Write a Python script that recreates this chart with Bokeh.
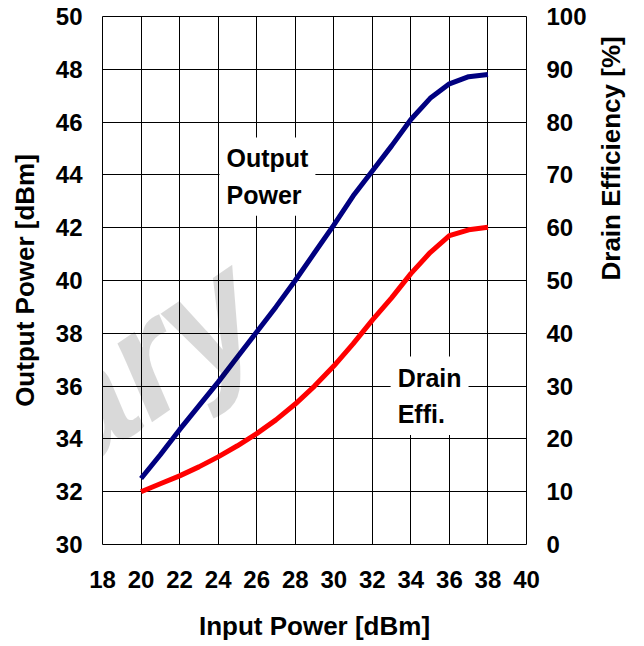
import math
from bokeh.plotting import figure
from bokeh.models import LinearAxis, Range1d, FixedTicker, Label
from bokeh.embed import file_html
from bokeh.resources import INLINE

# ---- data ----
input_power = [20, 21, 22, 23, 24, 25, 26, 27, 28, 29, 30, 31, 32, 33, 34, 35, 36, 37, 38]
output_power = [32.5, 33.4, 34.35, 35.25, 36.15, 37.1, 38.05, 39.0, 40.0, 41.05, 42.1, 43.2,
                44.15, 45.1, 46.1, 46.9, 47.45, 47.72, 47.8]
drain_eff = [10.0, 11.5, 13.0, 14.7, 16.6, 18.7, 21.0, 23.6, 26.6, 30.0, 33.8, 38.0,
             42.5, 46.7, 51.3, 55.3, 58.5, 59.6, 60.1]

x_ticks = list(range(18, 41, 2))
left_ticks = list(range(30, 51, 2))
right_ticks = list(range(0, 101, 10))

FONT = "Liberation Sans"

p = figure(width=644, height=646, x_range=Range1d(18, 40), y_range=Range1d(30, 50),
           output_backend="svg", toolbar_location=None,
           min_border_left=102, min_border_right=118, min_border_top=16, min_border_bottom=102)
p.extra_y_ranges = {"eff": Range1d(0, 100)}
p.background_fill_color = "white"
p.border_fill_color = "white"
p.outline_line_color = "black"
p.outline_line_width = 1
p.outline_line_alpha = 1

left_axis = p.yaxis[0]
bottom_axis = p.xaxis[0]

xt = FixedTicker(ticks=x_ticks)
yt = FixedTicker(ticks=left_ticks)
bottom_axis.ticker = xt
left_axis.ticker = yt
p.xgrid.ticker = xt
p.ygrid.ticker = yt
for g in (p.xgrid, p.ygrid):
    g.grid_line_color = "black"
    g.grid_line_width = 1
    g.grid_line_alpha = 1

right_axis = LinearAxis(y_range_name="eff", ticker=FixedTicker(ticks=right_ticks))
p.add_layout(right_axis, "right")

for ax in (bottom_axis, left_axis, right_axis):
    ax.axis_line_color = None
    ax.major_tick_line_color = None
    ax.minor_tick_line_color = None
    ax.major_tick_out = 0
    ax.major_tick_in = 0
    ax.major_label_text_font = FONT
    ax.major_label_text_font_style = "bold"
    ax.major_label_text_font_size = "24px"
    ax.major_label_text_color = "black"
    ax.major_label_standoff = 20
    ax.axis_label_text_font = FONT
    ax.axis_label_text_font_style = "bold"
    ax.axis_label_text_font_size = "26px"
    ax.axis_label_text_color = "black"

bottom_axis.major_label_standoff = 26
bottom_axis.axis_label = "Input Power [dBm]"
bottom_axis.axis_label_standoff = 20
left_axis.axis_label = "Output Power [dBm]"
left_axis.axis_label_standoff = 13

right_title = "Drain Efficiency [%]"
if "axis_label_orientation" in LinearAxis.properties():
    right_axis.axis_label = right_title
    right_axis.axis_label_standoff = 21
    right_axis.axis_label_orientation = math.pi / 2
else:
    p.add_layout(Label(x=44.35, y=40, text=right_title, text_align="center",
                       text_baseline="middle", angle=math.pi / 2, text_font=FONT,
                       text_font_size="26px", text_font_style="bold", text_color="black"))

p.line(input_power, output_power, line_color="#000080", line_width=5)
p.line(input_power, drain_eff, y_range_name="eff", line_color="#ff0000", line_width=5)

# watermark (translucent so grid and curves show through)
p.add_layout(Label(x=25.3, y=39.55, text="Preliminary", text_align="right",
                   text_baseline="alphabetic", angle=0.6, text_font=FONT,
                   text_font_size="160px", text_font_style="bold italic",
                   text_color="black", text_alpha=0.15))

p.add_layout(Label(x=24.07, y=45.42, text="Output\nPower", text_align="left",
                   text_baseline="top", text_font=FONT, text_font_size="25px",
                   text_font_style="bold", text_color="black", text_line_height=1.3,
                   background_fill_color="white", padding=7))
p.add_layout(Label(x=32.95, y=37.12, text="Drain\nEffi.", text_align="left",
                   text_baseline="top", text_font=FONT, text_font_size="25px",
                   text_font_style="bold", text_color="black", text_line_height=1.3,
                   background_fill_color="white", padding=7))

open("out.html", "w").write(file_html(p, INLINE))
